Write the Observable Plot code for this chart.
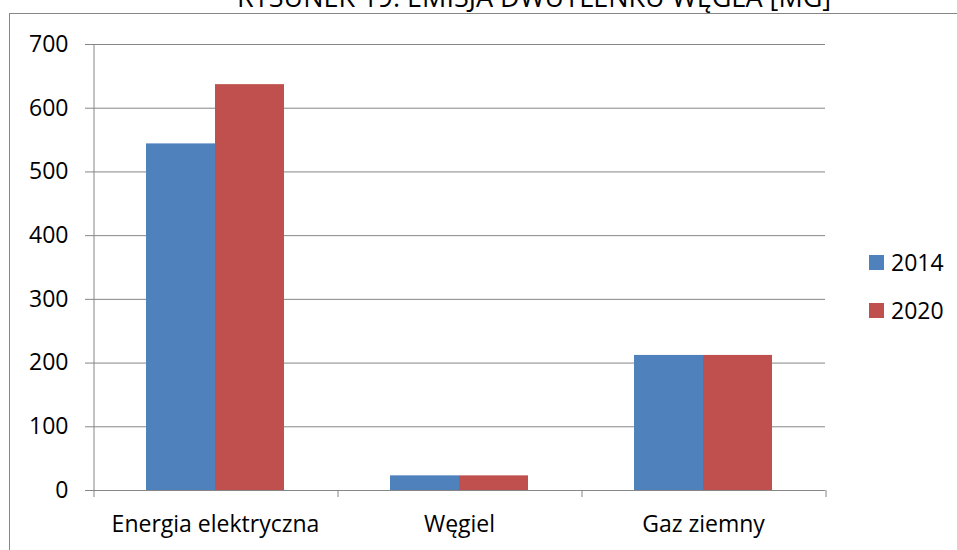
<!DOCTYPE html>
<html>
<head>
<meta charset="utf-8">
<script src="https://cdn.jsdelivr.net/npm/d3@7"></script>
<script src="https://cdn.jsdelivr.net/npm/@observablehq/plot@0.6"></script>
<style>
html, body { margin: 0; padding: 0; background: #fff; }
#wrap { position: relative; width: 957px; height: 550px; overflow: hidden; font-family: "Open Sans", sans-serif; color: #000; }
#title { position: absolute; left: 237px; top: -17px; font-size: 27px; line-height: 27px; white-space: nowrap; }
#frame { position: absolute; left: 9px; top: 13px; width: 1100px; height: 700px; border: 1px solid #868686; box-sizing: border-box; }
#chart { position: absolute; left: 0; top: 0; }
#legend { position: absolute; left: 869px; top: 248px; font-size: 23px; }
.row { display: flex; align-items: center; height: 28px; margin-bottom: 20px; }
.sw { width: 15px; height: 15px; margin-right: 7px; }
</style>
</head>
<body>
<div id="wrap">
  <div id="title"></div>
  <div id="frame"></div>
  <div id="chart"></div>
  <div id="legend"></div>
</div>
<script>
const titleText = "RYSUNEK 19: EMISJA DWUTLENKU WĘGLA [MG]";
const categories = ["Energia elektryczna", "Węgiel", "Gaz ziemny"];
const years = ["2014", "2020"];
const values2014 = [544, 23, 212];
const values2020 = [637, 23, 212];
const yTicks = [0, 100, 200, 300, 400, 500, 600, 700];
const colors = ["#4F81BD", "#C0504D"];

const seriesValues = {"2014": values2014, "2020": values2020};
const data = categories.flatMap((c, i) => years.map(y => ({category: c, year: y, value: seriesValues[y][i]})));

document.getElementById("title").textContent = titleText;

const gray = "#868686";

// axis line and category boundary ticks, from the library's scales (drawn once)
let boundaryDrawn = false;
function boundaryMark(index, scales) {
  const fx = scales.fx, y = scales.y;
  const g = d3.create("svg:g").attr("stroke", gray).attr("stroke-width", 1);
  if (!fx || !y || boundaryDrawn) return g.node();
  boundaryDrawn = true;
  const bw = fx.bandwidth();
  const y0 = y(0);
  const x0 = fx(categories[0]);
  g.append("line").attr("x1", x0).attr("x2", x0).attr("y1", y(yTicks[yTicks.length - 1])).attr("y2", y0 + 7);
  categories.forEach(c => {
    const xr = fx(c) + bw;
    g.append("line").attr("x1", xr).attr("x2", xr).attr("y1", y0).attr("y2", y0 + 7);
  });
  return g.node();
}

const chart = Plot.plot({
  width: 957,
  height: 550,
  marginLeft: 92,
  marginRight: 131,
  marginTop: 44,
  marginBottom: 60,
  style: {fontFamily: "'Open Sans', sans-serif", fontSize: "23px", background: "transparent", color: "#000", overflow: "visible"},
  fx: {domain: categories, padding: 0, label: null, tickSize: 0, tickPadding: 25},
  x: {domain: years, paddingInner: 0, paddingOuter: 0.75, axis: null},
  y: {domain: [0, 700], axis: null},
  color: {domain: years, range: colors},
  marks: [
    Plot.ruleY(yTicks, {stroke: gray, strokeWidth: 1}),
    Plot.barY(data, {fx: "category", x: "year", y: "value", fill: "year"}),
    Plot.axisY({ticks: yTicks, tickSize: 8, tickPadding: 17, stroke: gray, fill: "#000", label: null, tickFormat: d3.format("d")}),
    boundaryMark
  ]
});
document.getElementById("chart").appendChild(chart);

const legend = document.getElementById("legend");
years.forEach((y, i) => {
  const row = document.createElement("div");
  row.className = "row";
  const sw = document.createElement("div");
  sw.className = "sw";
  sw.style.background = colors[i];
  const t = document.createElement("span");
  t.textContent = y;
  row.appendChild(sw);
  row.appendChild(t);
  legend.appendChild(row);
});
</script>
</body>
</html>
